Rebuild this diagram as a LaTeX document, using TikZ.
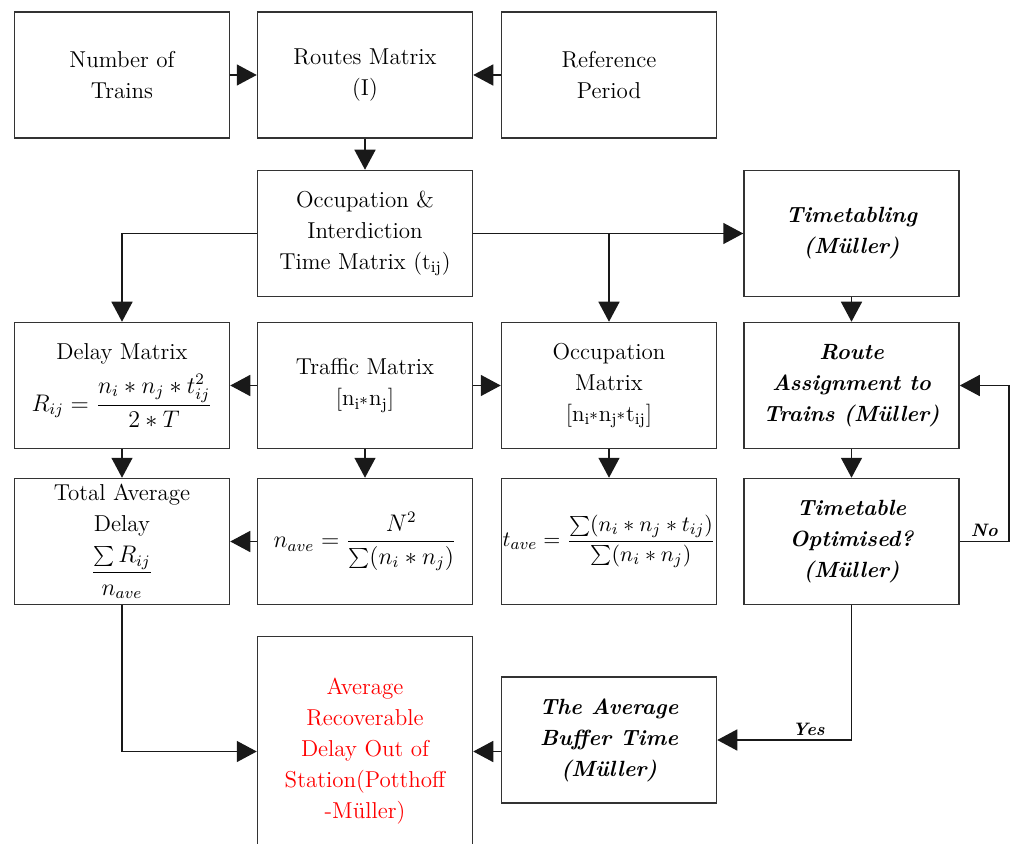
\documentclass[tikz,border=0pt]{standalone}
\usetikzlibrary{positioning}
\usetikzlibrary{arrows.meta}

\begin{document}
\begin{tikzpicture}[
    font=\fontsize{11.5}{15.5}\selectfont,
    block/.style = {draw=black!80, line width=0.75pt, minimum width=107.5pt, minimum height=63pt, align=center, inner sep=2pt},
    muller/.style = {block, font=\fontsize{11}{15.5}\selectfont\bfseries\itshape},
    flow/.style = {draw=black!90, line width=0.75pt, -{Triangle[length=10pt,width=10.5pt]}},
    answer/.style = {font=\fontsize{9}{10}\selectfont\bfseries\itshape, inner sep=2pt}
  ]
  \useasboundingbox (0,0) rectangle (505.5pt,-422pt);
  \clip (0,0) rectangle (505.5pt,-422pt);

  \node[block] (trains) at (61pt,-37.5pt) {Number of\\Trains};
  \node[block, right=13.25pt of trains] (routes) {Routes Matrix\\(I)};
  \node[block, right=13.75pt of routes] (period) {Reference\\Period};

  \node[block, below=15.5pt of routes] (occint) {Occupation \&\\Interdiction\\Time Matrix (t\textsubscript{ij})};
  \node[muller, below right=15.5pt and 13pt of period] (timetabling) {Timetabling\\(Müller)};

  \node[block, below=12.25pt of occint] (traffic) {Traffic Matrix\\{[}n\textsubscript{i*}n\textsubscript{j}]};
  \node[block, left=13.25pt of traffic] (delay) {Delay Matrix\\[4pt]$R_{ij}=\displaystyle\frac{n_i*n_j*t_{ij}^2}{2*T}$};
  \node[block, right=13.75pt of traffic] (occmat) {Occupation\\Matrix\\{[}n\textsubscript{i*}n\textsubscript{j*}t\textsubscript{ij}]};
  \node[muller, below=12.25pt of timetabling] (assign) {Route\\Assignment to\\Trains (Müller)};

  \node[block, below=14.25pt of traffic] (nave) {$n_{ave}=\displaystyle\frac{N^2}{\sum(n_i*n_j)}$};
  \node[block, left=13.25pt of nave] (total) {Total Average\\Delay\\[4pt]$\displaystyle\frac{\sum R_{ij}}{n_{ave}}$};
  \node[block, right=13.75pt of nave, font=\fontsize{11}{15}\selectfont] (tave) {\makebox[100pt]{$t_{ave}=\displaystyle\frac{\sum(n_i*n_j*t_{ij})}{\sum(n_i*n_j)}$}};
  \node[muller, below=14.25pt of assign] (optimised) {Timetable\\Optimised?\\(Müller)};

  \node[block, below=15.25pt of nave, minimum height=115pt, text=red] (recoverable) {Average\\Recoverable\\Delay Out of\\Station(Potthoff\\-Müller)};
  \node[muller, right=13.75pt of recoverable, yshift=5.75pt] (buffer) {The Average\\Buffer Time\\(Müller)};

  \draw[flow] (trains) -- (routes);
  \draw[flow] (period) -- (routes);
  \draw[flow] (routes) -- (occint);
  \draw[flow] (occint.east) -- (timetabling.west |- occint.east);
  \draw[flow] (occint.east) -| (occmat.north);
  \draw[flow] (occint.west) -| (delay.north);
  \draw[flow] (traffic) -- (delay);
  \draw[flow] (traffic) -- (occmat);
  \draw[flow] (timetabling) -- (assign);
  \draw[flow] (delay) -- (total);
  \draw[flow] (traffic) -- (nave);
  \draw[flow] (occmat) -- (tave);
  \draw[flow] (assign) -- (optimised);
  \draw[flow] (nave) -- (total);
  \draw[flow] (optimised.east) -- node[answer, above] (no) {No} ++(24.5pt,0) |- (assign.east);
  \draw[flow] (optimised.south) |- node[answer, above, pos=0.66] (yes) {Yes} (buffer.east);
  \draw[flow] (buffer.west |- recoverable.east) -- (recoverable.east);
  \draw[flow] (total.south) |- (recoverable.west);
\end{tikzpicture}
\end{document}
